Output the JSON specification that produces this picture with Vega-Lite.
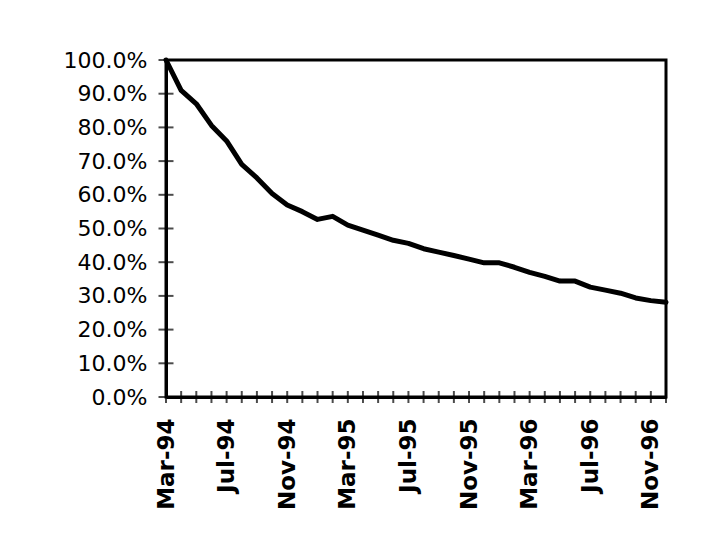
{
  "$schema": "https://vega.github.io/schema/vega-lite/v6.json",
  "width": 500,
  "height": 337,
  "autosize": {"type": "none"},
  "padding": {"left": 166, "top": 60, "right": 41, "bottom": 147},
  "background": "white",
  "config": {
    "view": {"stroke": "black", "strokeWidth": 3},
    "axis": {"grid": false, "domainColor": "black", "tickColor": "black", "labelColor": "black", "domainWidth": 3, "labelOverlap": false}
  },
  "datasets": {
    "series": [
      {"month": "Mar-94", "retention": 1.0},
      {"month": "Apr-94", "retention": 0.91},
      {"month": "May-94", "retention": 0.87},
      {"month": "Jun-94", "retention": 0.806},
      {"month": "Jul-94", "retention": 0.76},
      {"month": "Aug-94", "retention": 0.69},
      {"month": "Sep-94", "retention": 0.65},
      {"month": "Oct-94", "retention": 0.604},
      {"month": "Nov-94", "retention": 0.57},
      {"month": "Dec-94", "retention": 0.55},
      {"month": "Jan-95", "retention": 0.527},
      {"month": "Feb-95", "retention": 0.536},
      {"month": "Mar-95", "retention": 0.51},
      {"month": "Apr-95", "retention": 0.495},
      {"month": "May-95", "retention": 0.48},
      {"month": "Jun-95", "retention": 0.465},
      {"month": "Jul-95", "retention": 0.456},
      {"month": "Aug-95", "retention": 0.44},
      {"month": "Sep-95", "retention": 0.43},
      {"month": "Oct-95", "retention": 0.42},
      {"month": "Nov-95", "retention": 0.409},
      {"month": "Dec-95", "retention": 0.398},
      {"month": "Jan-96", "retention": 0.398},
      {"month": "Feb-96", "retention": 0.385},
      {"month": "Mar-96", "retention": 0.37},
      {"month": "Apr-96", "retention": 0.358},
      {"month": "May-96", "retention": 0.344},
      {"month": "Jun-96", "retention": 0.344},
      {"month": "Jul-96", "retention": 0.326},
      {"month": "Aug-96", "retention": 0.317},
      {"month": "Sep-96", "retention": 0.308},
      {"month": "Oct-96", "retention": 0.294},
      {"month": "Nov-96", "retention": 0.286},
      {"month": "Dec-96", "retention": 0.281}
    ],
    "yticks": [
      {"v": 0}, {"v": 0.1}, {"v": 0.2}, {"v": 0.3}, {"v": 0.4}, {"v": 0.5},
      {"v": 0.6}, {"v": 0.7}, {"v": 0.8}, {"v": 0.9}, {"v": 1.0}
    ]
  },
  "layer": [
    {
      "data": {"name": "series"},
      "mark": {"type": "line", "color": "black", "strokeWidth": 5, "strokeJoin": "round", "strokeCap": "round"},
      "encoding": {
        "x": {
          "field": "month", "type": "ordinal", "sort": null,
          "scale": {"type": "point", "padding": 0},
          "axis": {
            "title": null, "orient": "bottom", "labelAngle": -90, "ticks": false, "labelPadding": 21, "labelOverlap": false,
            "labelFont": "DejaVu Sans", "labelFontSize": 23, "labelFontWeight": "bold",
            "labelExpr": "indexof(['Mar-94','Jul-94','Nov-94','Mar-95','Jul-95','Nov-95','Mar-96','Jul-96','Nov-96'], datum.value) >= 0 ? datum.value : ''"
          }
        },
        "y": {
          "field": "retention", "type": "quantitative",
          "scale": {"domain": [0, 1], "nice": false},
          "axis": {
            "title": null, "orient": "left", "format": ".1%", "values": [0, 0.1, 0.2, 0.3, 0.4, 0.5, 0.6, 0.7, 0.8, 0.9, 1.0],
            "ticks": false, "labelPadding": 19, "labelOverlap": false, "labelFont": "DejaVu Sans", "labelFontSize": 22, "labelFontWeight": "normal"
          }
        }
      }
    },
    {
      "data": {"name": "series"},
      "mark": {"type": "tick", "orient": "vertical", "color": "black", "size": 12, "thickness": 2},
      "encoding": {
        "x": {
          "field": "month", "type": "ordinal", "sort": null,
          "scale": {"type": "point", "padding": 0},
          "axis": {
            "title": null, "orient": "bottom", "labelAngle": -90, "ticks": false, "labelPadding": 21, "labelOverlap": false,
            "labelFont": "DejaVu Sans", "labelFontSize": 23, "labelFontWeight": "bold",
            "labelExpr": "indexof(['Mar-94','Jul-94','Nov-94','Mar-95','Jul-95','Nov-95','Mar-96','Jul-96','Nov-96'], datum.value) >= 0 ? datum.value : ''"
          }
        },
        "y": {
          "datum": 0, "type": "quantitative",
          "scale": {"domain": [0, 1], "nice": false},
          "axis": {
            "title": null, "orient": "left", "format": ".1%", "values": [0, 0.1, 0.2, 0.3, 0.4, 0.5, 0.6, 0.7, 0.8, 0.9, 1.0],
            "ticks": false, "labelPadding": 19, "labelOverlap": false, "labelFont": "DejaVu Sans", "labelFontSize": 22, "labelFontWeight": "normal"
          }
        }
      }
    },
    {
      "data": {"name": "yticks"},
      "mark": {"type": "tick", "orient": "horizontal", "color": "black", "size": 15, "thickness": 2},
      "encoding": {
        "x": {
          "datum": "Mar-94", "type": "ordinal",
          "scale": {"type": "point", "padding": 0},
          "axis": {
            "title": null, "orient": "bottom", "labelAngle": -90, "ticks": false, "labelPadding": 21, "labelOverlap": false,
            "labelFont": "DejaVu Sans", "labelFontSize": 23, "labelFontWeight": "bold",
            "labelExpr": "indexof(['Mar-94','Jul-94','Nov-94','Mar-95','Jul-95','Nov-95','Mar-96','Jul-96','Nov-96'], datum.value) >= 0 ? datum.value : ''"
          }
        },
        "y": {
          "field": "v", "type": "quantitative",
          "scale": {"domain": [0, 1], "nice": false},
          "axis": {
            "title": null, "orient": "left", "format": ".1%", "values": [0, 0.1, 0.2, 0.3, 0.4, 0.5, 0.6, 0.7, 0.8, 0.9, 1.0],
            "ticks": false, "labelPadding": 19, "labelOverlap": false, "labelFont": "DejaVu Sans", "labelFontSize": 22, "labelFontWeight": "normal"
          }
        }
      }
    }
  ]
}
